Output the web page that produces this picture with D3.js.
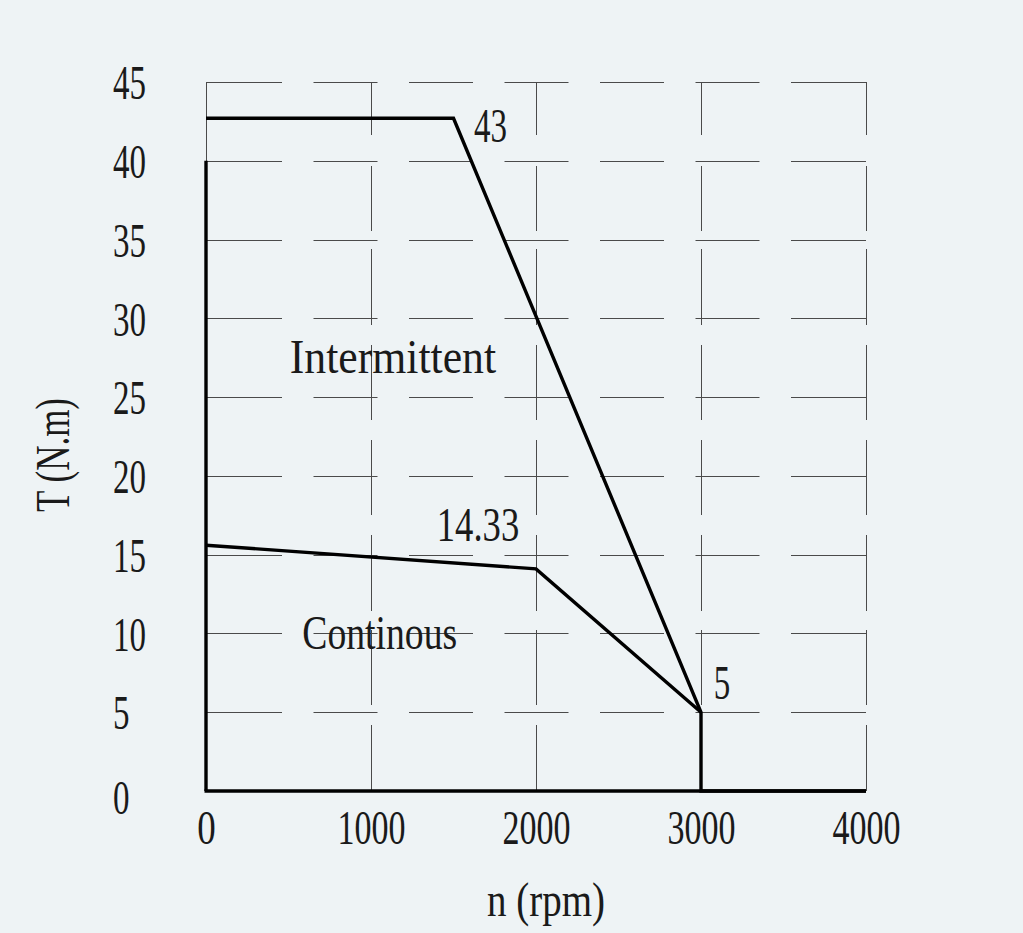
<!DOCTYPE html>
<html>
<head>
<meta charset="utf-8">
<script src="https://cdn.jsdelivr.net/npm/d3@7"></script>
<style>
  body { margin: 0; background: #eef3f5; }
  svg text { font-family: "Liberation Serif", "DejaVu Serif", serif; fill: #1a1a1a; }
</style>
</head>
<body>
<div id="chart"></div>
<script>
//ticks of both axes
var speedTicks = [0, 1000, 2000, 3000, 4000];
var torqueTicks = [0, 5, 10, 15, 20, 25, 30, 35, 40, 45];

//intermittent curve (rpm, N.m)
var intermSpeed = [0, 1500, 3000, 3000, 4000];
var intermTorque = [42.7, 42.7, 5, 0, 0];

//continous curve
var contSpeed = [0, 2000, 3000];
var contTorque = [15.6, 14.1, 5];

//left edge of the envelope, 0 rpm
var edgeSpeed = [0, 0];
var edgeTorque = [40, 0];

//point labels: text and the curve point they sit next to
var pointText = ["43", "14.33", "5"];
var pointSpeed = [1500, 2000, 3000];
var pointTorque = [42.7, 14.1, 5];

//region names and where they sit (data units)
var regionText = ["Intermittent", "Continous"];
var regionSpeed = [1133, 1053];
var regionTorque = [27.6, 10.1];

(function (d3) {
var width = 1023, height = 933;
var plotLeft = 206, plotRight = 866, plotTop = 82, plotBottom = 791;
var fontSize = 49;
var charW = 16.5;

var svg = d3.select('#chart').append('svg')
    .attr('width', width)
    .attr('height', height);

svg.append('rect').attr('width', width).attr('height', height).attr('fill', '#eef3f5');

var x = d3.scaleLinear().domain([0, 4000]).range([plotLeft, plotRight]);
var y = d3.scaleLinear().domain([0, 45]).range([plotBottom, plotTop]);

//grid - long dashes like the cad drawing
var hDash = '76 31.5 64 31.5 64 31.5 64 31.5 64 31.5 64 31.5 76';
var vDash = '53 31 65 18 76 20 75 20 75 20 76 19 75 20 66';

svg.append('g').selectAll('line')
    .data(torqueTicks.filter(function (d) { return d > 0; }))
    .enter().append('line')
    .attr('x1', x(0)).attr('x2', x(4000))
    .attr('y1', function (d) { return Math.round(y(d)) + 0.5; })
    .attr('y2', function (d) { return Math.round(y(d)) + 0.5; })
    .attr('stroke', '#4a4a4a')
    .attr('stroke-width', 1)
    .attr('stroke-dasharray', hDash);

svg.append('g').selectAll('line')
    .data(speedTicks.filter(function (d) { return d > 0; }))
    .enter().append('line')
    .attr('x1', function (d) { return Math.round(x(d)) + 0.5; })
    .attr('x2', function (d) { return Math.round(x(d)) + 0.5; })
    .attr('y1', y(45)).attr('y2', y(0))
    .attr('stroke', '#4a4a4a')
    .attr('stroke-width', 1)
    .attr('stroke-dasharray', vDash);

//thin solid line on the left side
svg.append('line')
    .attr('x1', x(0) + 0.5).attr('x2', x(0) + 0.5)
    .attr('y1', y(45)).attr('y2', y(0))
    .attr('stroke', '#4a4a4a').attr('stroke-width', 1);

//bottom axis line
svg.append('line')
    .attr('x1', x(0) - 1.5).attr('x2', x(4000))
    .attr('y1', y(0)).attr('y2', y(0))
    .attr('stroke', '#000').attr('stroke-width', 3.5);

var line = d3.line()
    .x(function (d) { return x(d[0]); })
    .y(function (d) { return y(d[1]); });

function drawCurve(sp, tq) {
    svg.append('path')
        .attr('d', line(d3.zip(sp, tq)))
        .attr('fill', 'none')
        .attr('stroke', '#000')
        .attr('stroke-width', 3.4)
        .attr('stroke-linejoin', 'miter');
}
drawCurve(intermSpeed, intermTorque);
drawCurve(contSpeed, contTorque);
drawCurve(edgeSpeed, edgeTorque);

//axes, only for the numbers
var xAxis = svg.append('g')
    .attr('transform', 'translate(0,' + y(0) + ')')
    .call(d3.axisBottom(x).tickValues(speedTicks).tickSize(0).tickFormat(d3.format('d')));
xAxis.select('.domain').remove();
xAxis.selectAll('text')
    .attr('y', 36).attr('dy', '0.34em')
    .attr('font-size', fontSize)
    .attr('font-family', null)
    .attr('fill', null)
    .attr('textLength', function (d) { return String(d).length * charW + 2; })
    .attr('lengthAdjust', 'spacingAndGlyphs');

var yAxis = svg.append('g')
    .attr('transform', 'translate(' + x(0) + ',0)')
    .call(d3.axisLeft(y).tickValues(torqueTicks).tickSize(0));
yAxis.select('.domain').remove();
yAxis.selectAll('text')
    .attr('x', 113 - x(0)).attr('dy', '0.34em')
    .attr('text-anchor', 'start')
    .attr('font-size', fontSize)
    .attr('font-family', null)
    .attr('fill', null)
    .attr('textLength', function (d) { return String(d).length * charW; })
    .attr('lengthAdjust', 'spacingAndGlyphs');
yAxis.selectAll('.tick').filter(function (d) { return d === 0; })
    .select('text').attr('dy', '0.46em');

//point labels, offsets from the curve point
var pointOffset = [[37, 7], [-58, -45], [21, -30]];
svg.append('g').selectAll('text')
    .data(pointText)
    .enter().append('text')
    .attr('x', function (d, i) { return x(pointSpeed[i]) + pointOffset[i][0]; })
    .attr('y', function (d, i) { return y(pointTorque[i]) + pointOffset[i][1]; })
    .attr('dy', '0.34em')
    .attr('text-anchor', 'middle')
    .attr('font-size', fontSize)
    .attr('textLength', function (d) { return d.length * charW; })
    .attr('lengthAdjust', 'spacingAndGlyphs')
    .text(function (d) { return d; });

svg.append('g').selectAll('text')
    .data(regionText)
    .enter().append('text')
    .attr('x', function (d, i) { return x(regionSpeed[i]); })
    .attr('y', function (d, i) { return y(regionTorque[i]); })
    .attr('dy', '0.34em')
    .attr('text-anchor', 'middle')
    .attr('font-size', fontSize)
    .attr('textLength', function (d) { return d.length * 17.2; })
    .attr('lengthAdjust', 'spacingAndGlyphs')
    .text(function (d) { return d; });

//axis titles
svg.append('text')
    .attr('x', 546).attr('y', 899).attr('dy', '0.34em')
    .attr('text-anchor', 'middle')
    .attr('font-size', fontSize)
    .attr('textLength', 118)
    .attr('lengthAdjust', 'spacingAndGlyphs')
    .text('n (rpm)');

svg.append('text')
    .attr('transform', 'translate(52,455) rotate(-90)')
    .attr('dy', '0.34em')
    .attr('text-anchor', 'middle')
    .attr('font-size', fontSize)
    .attr('textLength', 114)
    .attr('lengthAdjust', 'spacingAndGlyphs')
    .text('T (N.m)');
})(window.d3);
</script>
</body>
</html>
